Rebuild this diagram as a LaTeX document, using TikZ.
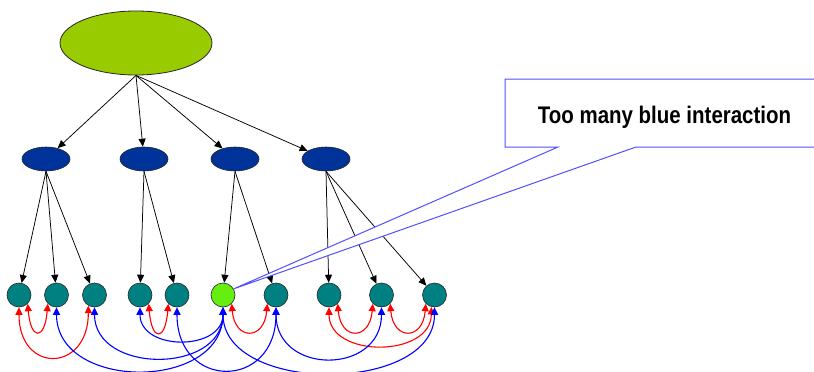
\documentclass[tikz,border=0pt]{standalone}
\usepackage{fontspec}
\setmainfont{Liberation Sans}
\usetikzlibrary{arrows.meta,shapes.geometric}

\definecolor{topgreen}{RGB}{153,204,0}
\definecolor{midblue}{RGB}{0,51,153}
\definecolor{leafteal}{RGB}{0,128,128}
\definecolor{hotgreen}{RGB}{102,238,17}
\definecolor{calloutblue}{RGB}{80,80,255}

\tikzset{
  root/.style={ellipse, draw=black!85, line width=0.8pt, fill=topgreen,
    minimum width=152pt, minimum height=64pt, inner sep=0pt},
  hub/.style={ellipse, draw=black!85, line width=0.6pt, fill=midblue,
    minimum width=48pt, minimum height=24pt, inner sep=0pt},
  leaf/.style={circle, draw=black!85, line width=0.6pt, fill=leafteal,
    minimum size=24pt, inner sep=0pt},
  hotleaf/.style={leaf, fill=hotgreen},
  tree/.style={draw=black, line width=0.75pt, -{Triangle[length=8pt,width=7pt]}},
  redlink/.style={draw=red, line width=1.1pt,
    {Triangle[length=7.5pt,width=7pt]}-{Triangle[length=7.5pt,width=7pt]}},
  bluelink/.style={draw=blue, line width=1.1pt,
    {Triangle[length=7.5pt,width=7pt]}-{Triangle[length=7.5pt,width=7pt]}},
  callout/.style={draw=calloutblue, line width=1pt, fill=white},
  msgtext/.style={font=\bfseries\fontsize{24}{28}\selectfont, inner sep=0pt},
}

\begin{document}
\begin{tikzpicture}[x=1pt,y=-1pt]
  \useasboundingbox (0,0) rectangle (814,372);
  \clip (0,0) rectangle (814,372);

  % hierarchy
  \node[root] (top) at (136,43) {};
  \node[hub] (m1) at (46,159) {};
  \node[hub] (m2) at (144,159) {};
  \node[hub] (m3) at (235,159) {};
  \node[hub] (m4) at (326,159) {};

  \node[leaf] (c1) at (19,295) {};
  \node[leaf] (c2) at (56.5,295) {};
  \node[leaf] (c3) at (94.5,295) {};
  \node[leaf] (c4) at (140,295) {};
  \node[leaf] (c5) at (177,295) {};
  \node[hotleaf] (g) at (223,295) {};
  \node[leaf] (c7) at (276,295) {};
  \node[leaf] (c8) at (329,295) {};
  \node[leaf] (c9) at (381.5,295) {};
  \node[leaf] (c10) at (434.5,295) {};

  \foreach \m in {m1,m2,m3,m4} \draw[tree] (top.south) -- (\m);
  \foreach \c in {c1,c2,c3} \draw[tree] (m1.south) -- (\c);
  \foreach \c in {c4,c5} \draw[tree] (m2.south) -- (\c);
  \foreach \c in {g,c7} \draw[tree] (m3.south) -- (\c);
  \foreach \c in {c8,c9,c10} \draw[tree] (m4.south) -- (\c);

  % red interactions
  \draw[redlink] (c1.-45) .. controls +(3,37) and +(-3,37) .. (c2.-135);
  \draw[redlink] (c1.south) .. controls +(0,67) and +(0,67) .. (c3.-120);
  \draw[redlink] (c4.-45) .. controls +(3,38) and +(-3,38) .. (c5.-135);
  \draw[redlink] (g.-45) .. controls +(3,37) and +(-3,37) .. (c7.-135);
  \draw[redlink] (c8.-45) .. controls +(3,37) and +(-3,37) .. (c9.-135);
  \draw[redlink] (c9.-45) .. controls +(3,37) and +(-3,37) .. (c10.-135);
  \draw[redlink] (c8.south) .. controls +(0,51) and +(0,51) .. (c10.-105);

  % blue interactions
  \draw[bluelink] (g.south) .. controls +(0,44) and +(0,44) .. (c4.south);
  \draw[bluelink] (g.south) .. controls +(0,67) and +(0,67) .. (c3.south);
  \draw[bluelink] (g.south) .. controls +(0,84) and +(0,84) .. (c2.south);
  \draw[bluelink] (c5.south) .. controls +(0,83) and +(0,83) .. (c7.south);
  \draw[bluelink] (c7.south) .. controls +(0,68) and +(0,68) .. (c9.south);
  \draw[bluelink] (g.south) .. controls +(0,87) and +(0,87) .. (c10.south);

  % callout
  \coordinate (tip) at (g.30);
  \draw[callout] (505,79) -- (830,79) -- (830,147) -- (636,147) -- (tip)
    -- (558,147) -- (505,147) -- cycle;
  \node[msgtext, anchor=base] (msg) at (664.5,123)
    {\scalebox{0.853}[1]{Too many blue interaction}};
\end{tikzpicture}
\end{document}
